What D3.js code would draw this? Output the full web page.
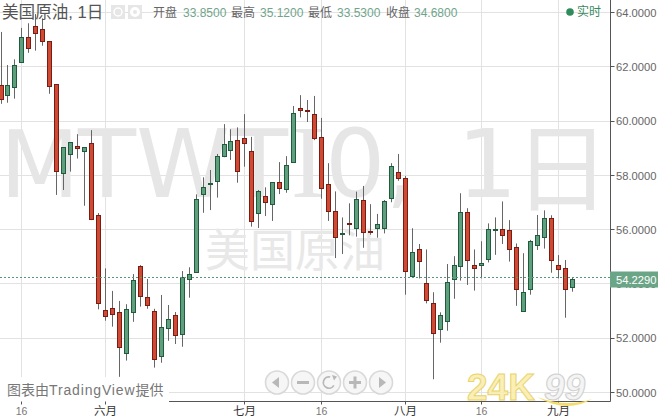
<!DOCTYPE html>
<html><head><meta charset="utf-8">
<script src="https://cdn.jsdelivr.net/npm/d3@7"></script>
<style>html,body{margin:0;padding:0;background:#fff;overflow:hidden}svg{display:block}
text{font-family:"Liberation Sans","Noto Sans CJK SC",sans-serif}</style></head>
<body><svg id="c" width="658" height="419"></svg>
<script>
const open=[61.32,60.95,61.25,62.17,63.09,63.50,63.39,62.95,61.36,58.08,58.78,59.07,58.87,59.18,56.53,53.02,53.08,52.94,51.42,52.95,54.65,53.50,52.99,51.33,52.36,52.84,52.14,54.17,54.43,57.29,57.66,57.78,58.69,58.92,59.29,59.37,58.89,56.59,57.23,56.92,57.74,57.47,58.47,60.47,60.40,60.25,59.40,57.67,56.68,55.85,56.23,56.05,57.08,55.94,56.05,56.05,57.15,58.10,57.89,54.28,55.27,54.02,53.28,52.31,52.62,54.17,54.65,56.64,54.68,54.68,54.90,55.97,56.01,55.97,55.35,52.99,53.80,55.42,55.72,56.42,54.68,54.57,53.87];
const high=[63.29,62.07,62.28,63.44,63.61,63.95,63.79,62.95,61.36,59.04,59.22,59.52,59.04,59.67,56.61,54.57,53.74,53.37,53.25,54.36,54.69,54.18,53.08,53.59,53.22,52.96,54.47,54.61,57.30,57.93,58.20,58.79,59.89,59.70,59.77,60.26,59.42,57.46,57.56,57.74,58.49,58.71,60.56,60.96,60.78,60.93,60.12,58.45,57.41,56.45,56.97,57.40,57.61,56.94,56.58,57.09,58.45,58.79,57.98,56.05,55.47,55.27,53.69,52.95,54.73,55.02,57.34,56.79,55.27,55.57,56.23,56.45,57.04,56.35,55.49,55.13,55.62,56.54,56.71,56.53,55.06,54.88,54.24];
const low=[60.64,60.68,60.83,62.17,62.52,62.60,62.78,61.01,57.28,57.46,58.14,58.62,56.88,56.35,53.06,52.64,52.42,50.57,51.17,52.60,53.16,53.08,50.91,51.09,51.90,51.78,51.68,53.49,54.43,56.62,56.72,57.18,58.67,58.57,57.73,58.32,56.11,56.06,56.50,56.32,57.31,57.36,58.47,60.14,59.97,59.30,57.14,56.32,54.95,55.10,55.79,55.74,55.33,55.81,55.70,55.86,57.01,57.80,53.60,54.28,54.20,53.28,50.48,51.83,52.27,53.45,54.12,53.96,53.75,54.20,54.79,55.07,55.47,54.82,53.19,52.99,53.60,55.25,55.30,54.41,54.20,52.75,53.71];
const close=[60.81,61.32,62.06,63.09,62.69,63.24,62.95,61.29,58.14,59.04,59.21,59.00,59.04,56.38,53.27,52.79,52.86,51.66,53.06,54.13,53.54,53.19,51.22,52.40,52.69,52.10,54.23,54.35,57.12,57.56,57.71,58.70,59.15,59.26,58.14,59.17,56.29,57.41,56.99,57.74,57.51,58.37,60.29,60.39,60.35,59.35,57.51,56.68,55.70,55.86,56.22,57.12,55.89,55.89,56.20,57.04,58.33,57.88,54.46,55.16,54.83,53.39,52.18,52.84,54.06,54.68,56.64,54.87,54.56,54.76,56.01,56.01,55.78,55.27,53.80,53.69,55.57,55.79,56.42,54.87,54.54,53.80,54.17];
const priceTicks=[50,52,54,56,58,60,62,64];
const timeTickIndex=[3,15,35,46,58,69,80];
const timeTickLabels=["16","六月","七月","16","八月","16","九月"];
const lastPrice=54.229;
const titleText="美国原油, 1日";
const watermark2="美国原油";
const ohlcLabels=["开盘","最高","最低","收盘"];
const ohlcValues=["33.8500","35.1200","33.5300","34.6800"];

const svg=d3.select("#c");
const axisX=610.5,axisY=401.5;
const y=d3.scaleLinear().domain([50,64]).range([392.3,12.7]);
const x=d3.scaleLinear().domain([0,82]).range([1,572.5]);
const px=v=>Math.floor(x(v))+0.5;
const py=v=>Math.round(y(v)-0.5)+0.5;
const GREY="#e2e2e2";

// grid
const g=svg.append("g");
g.selectAll(".h").data(priceTicks).join("line").attr("x1",0).attr("x2",axisX)
 .attr("y1",py).attr("y2",py).attr("stroke",GREY);
g.selectAll(".v").data(timeTickIndex).join("line").attr("y1",0).attr("y2",axisY)
 .attr("x1",d=>px(d)).attr("x2",d=>px(d)).attr("stroke",GREY);

// watermarks: one text element, glyph runs placed to follow the reference's Verdana-like font
const wm=svg.append("text").attr("y",197).attr("font-size",95).attr("fill","#e6e6e6");
const wmRuns=[
 ["M",0,"DejaVu Sans",92,197],
 ["TWT",78,"DejaVu Sans",95,197],
 ["I",291,"Liberation Serif",103,197],
 ["0,",325,"DejaVu Sans",95,197],
 ["1",457,"DejaVu Sans",95,197],
 ["日",514,"Noto Sans CJK SC",96,203]];
wmRuns.forEach(([t,xx,f,s,yy])=>wm.append("tspan").attr("x",xx).attr("y",yy).style("font-family","'"+f+"'").attr("font-size",s).text(t));
svg.append("text").attr("x",205).attr("y",267).attr("font-size",45).attr("fill","#e8e8e8")
 .style("font-family","'Noto Sans CJK SC'").text(watermark2);

// candles
const idx=d3.range(open.length);
const RED="#cf4a35",REDB="#7a1c12",GRN="#5f9f7e",GRNB="#1f5c3e";
const cg=svg.append("g");
cg.selectAll(".w").data(idx).join("line")
 .attr("x1",px).attr("x2",px)
 .attr("y1",i=>y(high[i])).attr("y2",i=>y(low[i]))
 .attr("stroke","#666").attr("stroke-width",1);
cg.selectAll(".b").data(idx).join("rect")
 .attr("x",i=>px(i)-2).attr("width",4)
 .attr("y",i=>py(Math.max(open[i],close[i])))
 .attr("height",i=>Math.max(1,py(Math.min(open[i],close[i]))-py(Math.max(open[i],close[i]))))
 .attr("fill",i=>close[i]<open[i]?RED:GRN)
 .attr("stroke",i=>close[i]<open[i]?REDB:GRNB);

// last price line
svg.append("line").attr("x1",0).attr("x2",axisX).attr("y1",py(lastPrice)).attr("y2",py(lastPrice))
 .attr("stroke","#5d9577").attr("stroke-dasharray","2 2");

// attribution box
svg.append("rect").attr("x",0).attr("y",377).attr("width",169).attr("height",26).attr("fill","#fff");
const attr=svg.append("text").attr("x",7).attr("y",395).attr("font-size",14).attr("fill","#777");
attr.append("tspan").text("图表由");
attr.append("tspan").attr("letter-spacing",0.85).text("TradingView");
attr.append("tspan").text("提供");

// axes
const ax=svg.append("g");
ax.append("line").attr("x1",axisX).attr("x2",axisX).attr("y1",0).attr("y2",axisY).attr("stroke","#555");
ax.append("line").attr("x1",169).attr("x2",axisX).attr("y1",axisY).attr("y2",axisY).attr("stroke","#555");
ax.selectAll(".yt").data(priceTicks).join("line").attr("x1",axisX).attr("x2",axisX+4)
 .attr("y1",py).attr("y2",py).attr("stroke","#555");
ax.selectAll(".yl").data(priceTicks).join("text").attr("x",616).attr("y",d=>y(d)+4.2)
 .attr("font-size",11.2).attr("fill","#666").text(d=>d.toFixed(4));
ax.selectAll(".xt").data(timeTickIndex).join("line").attr("y1",axisY).attr("y2",axisY+3)
 .attr("x1",px).attr("x2",px).attr("stroke","#555");
ax.selectAll(".xl").data(timeTickIndex).join("text").attr("x",px).attr("y",415)
 .attr("text-anchor","middle").attr("font-size",(d,i)=>timeTickLabels[i]==="16"?10.5:11.5)
 .attr("fill",(d,i)=>timeTickLabels[i]==="16"?"#777":"#333")
 .text((d,i)=>timeTickLabels[i]);

// last price tag
svg.append("rect").attr("x",610).attr("y",271.5).attr("width",48).attr("height",16).attr("fill","#6ba587");
svg.append("text").attr("x",616).attr("y",283.5).attr("font-size",11.2).attr("fill","#fff").text(lastPrice.toFixed(4));

// header
svg.append("text").attr("x",2).attr("y",18).attr("font-size",16.6).attr("fill","#555").text(titleText);
[111,128].forEach((bx,k)=>{
  svg.append("rect").attr("x",bx).attr("y",5).attr("width",14).attr("height",14).attr("fill","#e6e6e6");
  svg.append("circle").attr("cx",bx+7).attr("cy",12).attr("r",k?3.5:4).attr("fill","none").attr("stroke","#fff").attr("stroke-width",k?3:1.5);
});
const lx=[153,231,308,386],vx=[183,260,337,414];
ohlcLabels.forEach((t,i)=>{
  svg.append("text").attr("x",lx[i]).attr("y",17).attr("font-size",12).attr("fill","#666").text(t);
  svg.append("text").attr("x",vx[i]).attr("y",17).attr("font-size",12).attr("fill","#6fa58a").text(ohlcValues[i]);
});
svg.append("circle").attr("cx",570).attr("cy",12).attr("r",3.8).attr("fill","#2f8a5c");
svg.append("text").attr("x",577).attr("y",16).attr("font-size",12).attr("fill","#3a8a60").text("实时");

// nav buttons
const btn=[277,303,329,355,381];
const bg=svg.append("g");
bg.selectAll("circle").data(btn).join("circle").attr("cx",d=>d).attr("cy",382.5).attr("r",11.5)
 .attr("fill","#f6f6f6").attr("stroke","#d9d9d9").attr("stroke-width",1.6);
const I="#b8b8b8";
bg.append("path").attr("d","M272 382.5l7-5.5v11z").attr("fill",I);
bg.append("path").attr("d","M386 382.5l-7-5.5v11z").attr("fill",I);
bg.append("rect").attr("x",297).attr("y",381).attr("width",12).attr("height",3).attr("fill",I);
bg.append("rect").attr("x",349).attr("y",381).attr("width",12).attr("height",3).attr("fill",I);
bg.append("rect").attr("x",353.5).attr("y",376.5).attr("width",3).attr("height",12).attr("fill",I);
bg.append("path").attr("d",d3.arc()({innerRadius:4.8,outerRadius:6.5,startAngle:2.1,endAngle:6.5})).attr("transform","translate(329,382.5)").attr("fill",I);
bg.append("path").attr("d","M332 375l5 1.5-3 4z").attr("fill",I);

// logo
const logo=svg.append("g");
logo.append("path").attr("d","M537 397Q567 414 592 399Q567 408 537 397z").attr("fill","#f3dc6a");
logo.append("text").attr("x",467).attr("y",400).attr("font-size",37).attr("font-weight","bold").attr("fill","#f9eeb0").attr("stroke","#e8cf5a").attr("stroke-width",1).attr("opacity",.9).text("24K");
logo.append("text").attr("x",544).attr("y",400).attr("font-size",37).attr("font-weight","bold").attr("font-style","italic").attr("fill","#f4f4f4").attr("stroke","#cfcfcf").attr("stroke-width",1).text("99");
</script></body></html>
